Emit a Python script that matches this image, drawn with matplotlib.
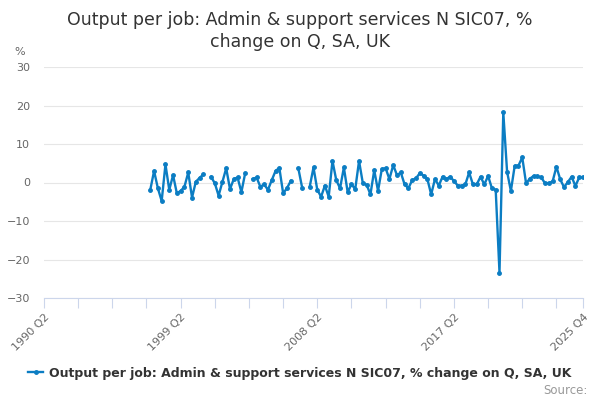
import numpy as np
import matplotlib
matplotlib.use("Agg")
import matplotlib.pyplot as plt

# quarterly categories 1990 Q2 .. 2025 Q4
quarters = []
for yr in range(1990, 2026):
    for q in range(1, 5):
        if (yr, q) >= (1990, 2):
            quarters.append(f"{yr} Q{q}")

first_quarter = "1997 Q2"
# % change on quarter (None = missing)
values = [
    -1.9, 3.0, -1.5, -4.8, 4.7, -1.9, 1.9, -2.8, -2.2, -1.1, 2.6, -3.9, 0.2, 1.2, 2.1,
    None,
    1.5, -0.2, -3.4, 0.2, 3.7, -1.7, 0.9, 1.3, -2.5, 2.4,
    None,
    0.9, 1.3, -1.1, -0.5, -1.9, 0.6, 3.0, 3.8, -2.8, -1.5, 0.4,
    None,
    3.7, -1.3,
    None,
    -1.1, 3.9, -1.9, -3.7, -0.8, -3.7, 5.6, 0.6, -1.5, 3.9, -2.5, -0.5, -1.7, 5.6,
    -0.2, -0.6, -3.1, 3.2, -2.2, 3.5, 3.7, 0.9, 4.5, 1.9, 2.6, -0.5, -1.5, 0.6,
    1.1, 2.4, 1.8, 0.9, -3.1, 0.9, -0.8, 1.5, 0.9, 1.5, 0.4, -0.8, -0.8, -0.5,
    2.6, -0.5, -0.5, 1.5, -0.5, 1.7, -1.5, -1.9, -23.4, 18.2, 2.8, -2.2, 4.3, 4.4,
    6.5, -0.2, 1.0, 1.7, 1.6, 1.3, -0.2, -0.2, 0.3, 4.1, 0.8, -1.2, 0.1, 1.5,
    -0.9, 1.3, 1.3,
]
tick_labels = ["1990 Q2", "1999 Q2", "2008 Q2", "2017 Q2", "2025 Q4"]
series_name = "Output per job: Admin & support services N SIC07, % change on Q, SA, UK"

start = quarters.index(first_quarter)
y = np.full(len(quarters), np.nan)
for i, v in enumerate(values):
    if v is not None:
        y[start + i] = v
x = np.arange(len(quarters))

blue = "#0b7dc3"
fig = plt.figure(figsize=(6, 4), dpi=100)
ax = fig.add_axes([44 / 600, 1 - 298 / 400, (583 - 44) / 600, (298 - 67) / 400])

ax.plot(x, y, color=blue, lw=1.7, marker="o", ms=2.5, label=series_name)

ax.set_xlim(0, len(quarters) - 1)
ax.set_ylim(-30, 30)
ax.set_yticks(range(-30, 31, 10))
ax.grid(axis="y", color="#e6e6e6", lw=0.8)
ax.set_axisbelow(True)
for s in ["top", "right", "left"]:
    ax.spines[s].set_visible(False)
ax.spines["bottom"].set_color("#ccd6eb")
ax.tick_params(axis="y", length=0, pad=10, labelsize=8, labelcolor="#666666")

major = [quarters.index(t) for t in tick_labels]
minor = list(range(0, len(quarters), 9)) + [len(quarters) - 1]
ax.set_xticks(major)
ax.set_xticklabels(tick_labels, rotation=45, ha="right", va="top",
                   rotation_mode="anchor", fontsize=8, color="#666666")
ax.set_xticks(minor, minor=True)
ax.tick_params(axis="x", which="both", direction="out", length=7,
               color="#ccd6eb", width=0.8, pad=3)

fig.text(14 / 600, 1 - 52 / 400, "%", fontsize=8, color="#666666", va="center")
fig.text(0.5, 1 - 31 / 400,
         "Output per job: Admin & support services N SIC07, %\nchange on Q, SA, UK",
         ha="center", va="center", fontsize=12.5, color="#333333", linespacing=1.3)

fig.legend(loc="center", bbox_to_anchor=(0.5, 1 - 373 / 400), frameon=False,
           handlelength=1.2, handletextpad=0.5,
           prop={"weight": "bold", "size": 9}, labelcolor="#333333")
fig.text(588 / 600, 1 - 390 / 400, "Source:", ha="right", va="center",
         fontsize=8.5, color="#999999")

fig.savefig("out.png", dpi=100)
